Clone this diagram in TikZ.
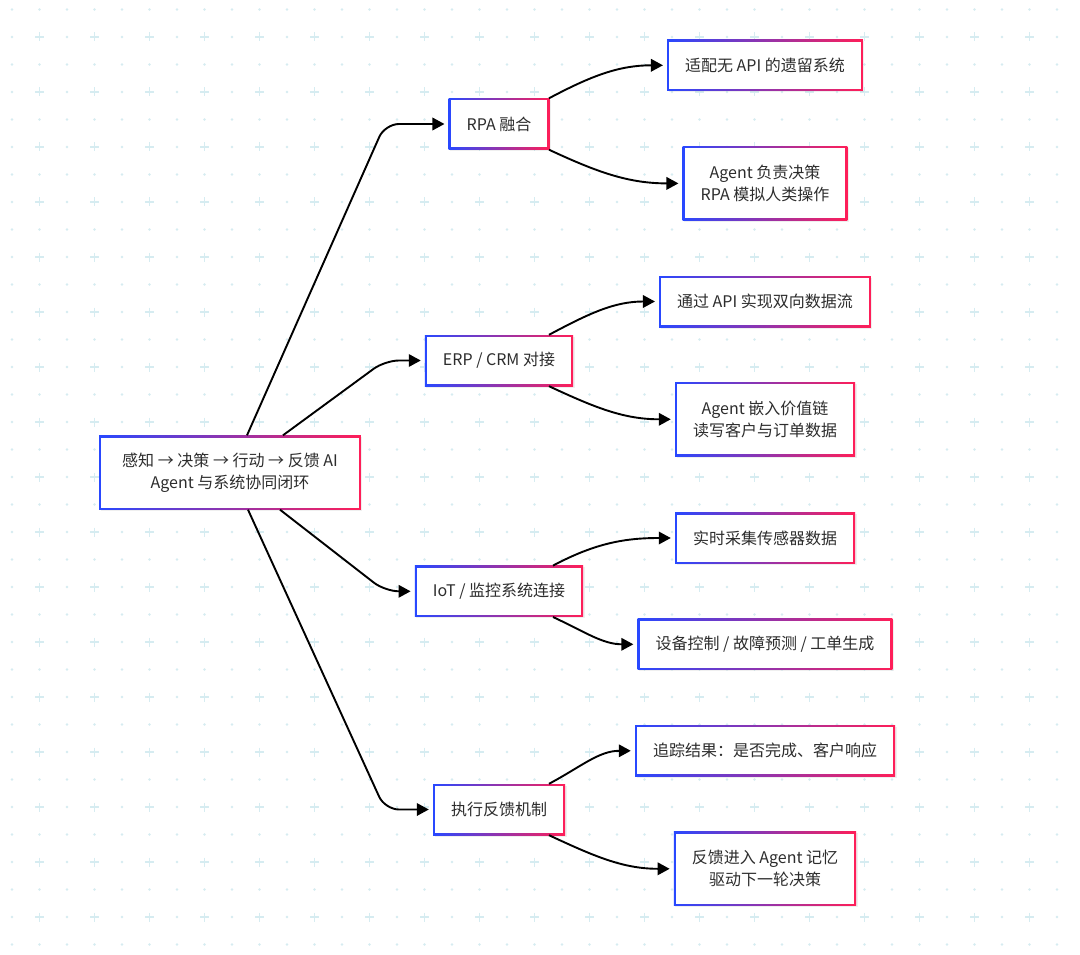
\documentclass[tikz,border=0pt]{standalone}
\usepackage{fontspec}
\newfontfamily\cjk{Noto Sans CJK SC}
\usetikzlibrary{arrows.meta,shadows}

\definecolor{gblue}{RGB}{40,72,255}
\definecolor{gred}{RGB}{255,30,88}
\definecolor{gridcol}{RGB}{214,236,241}
\definecolor{txt}{RGB}{45,45,45}

\tikzset{
    box/.style={rectangle, left color=gblue, right color=gred,
        path picture={\fill[white] ([shift={(2pt,-2pt)}]path picture bounding box.north west) rectangle ([shift={(-2pt,2pt)}]path picture bounding box.south east);},
        drop shadow={opacity=0.12, shadow xshift=1.5pt, shadow yshift=-1.5pt},
        minimum height=51pt, inner xsep=18pt, inner ysep=4pt,
        align=center, text=txt, font=\cjk\fontsize{16}{22}\selectfont},
    tall/.style={minimum height=74pt},
    link/.style={-{Triangle[length=12pt,width=12.5pt]}, line width=1.9pt, shorten >=4pt}
}

\begin{document}
\begin{tikzpicture}[x=1pt, y=-1pt]
    \useasboundingbox (0,0) rectangle (1080,955);
    \fill[white] (0,0) rectangle (1080,955);
    \foreach \i in {0,...,38}
        \foreach \j in {0,...,34}
            \fill[gridcol] (12+27.5*\i, 9.5+27.5*\j) circle (1.4);
    \foreach \i in {1,3,...,37}
        \foreach \j in {1,3,...,33}
            \draw[gridcol, line width=1.8] (12+27.5*\i, 9.5+27.5*\j) +(-4.5,0) -- +(4.5,0) +(0,-4.5) -- +(0,4.5);

    \node[box, tall, inner xsep=23pt] (root) at (230,472.5) {感知 → 决策 → 行动 → 反馈 AI\\Agent 与系统协同闭环};

    \node[box] (rpa) at (499,124) {RPA 融合};
    \node[box] (erp) at (499,360.5) {ERP / CRM 对接};
    \node[box] (iot) at (499,591.3) {IoT / 监控系统连接};
    \node[box] (fb) at (499,809.5) {执行反馈机制};

    \node[box] (legacy) at (765,65.3) {适配无 API 的遗留系统};
    \node[box, tall] (agentrpa) at (765,183.4) {Agent 负责决策\\RPA 模拟人类操作};
    \node[box] (apiflow) at (765,301.5) {通过 API 实现双向数据流};
    \node[box, tall] (chain) at (765,419.3) {Agent 嵌入价值链\\读写客户与订单数据};
    \node[box] (sensor) at (765,538) {实时采集传感器数据};
    \node[box] (device) at (765,644.3) {设备控制 / 故障预测 / 工单生成};
    \node[box] (track) at (765,750.8) {追踪结果：是否完成、客户响应};
    \node[box, tall] (memory) at (765,868.8) {反馈进入 Agent 记忆\\驱动下一轮决策};

    \coordinate (bend) at (385,0);
    \coordinate (split) at (549,0);

    \draw[link, rounded corners=14pt] ([xshift=17pt]root.north) -- (bend |- rpa.west) -- (rpa.west);
    \draw[link, rounded corners=14pt] ([xshift=53pt]root.north) -- (bend |- erp.west) -- (erp.west);
    \draw[link, rounded corners=14pt] ([xshift=50pt]root.south) -- (bend |- iot.west) -- (iot.west);
    \draw[link, rounded corners=14pt] ([xshift=18pt]root.south) -- (bend |- fb.west) -- (fb.west);

    \draw[link] (split |- rpa.north) to[out=28, in=180] (legacy.west);
    \draw[link] (split |- rpa.south) to[out=-25, in=180] (agentrpa.west);
    \draw[link] (split |- erp.north) to[out=28, in=180] (apiflow.west);
    \draw[link] (split |- erp.south) to[out=-25, in=180] (chain.west);
    \draw[link] ([xshift=4pt]split |- iot.north) to[out=28, in=180] (sensor.west);
    \draw[link] ([xshift=4pt]split |- iot.south) to[out=-25, in=180] (device.west);
    \draw[link] (split |- fb.north) to[out=28, in=180] (track.west);
    \draw[link] (split |- fb.south) to[out=-25, in=180] (memory.west);
    % \draw (bend) node [circle, draw, fill=red]{};

\end{tikzpicture}
\end{document}
